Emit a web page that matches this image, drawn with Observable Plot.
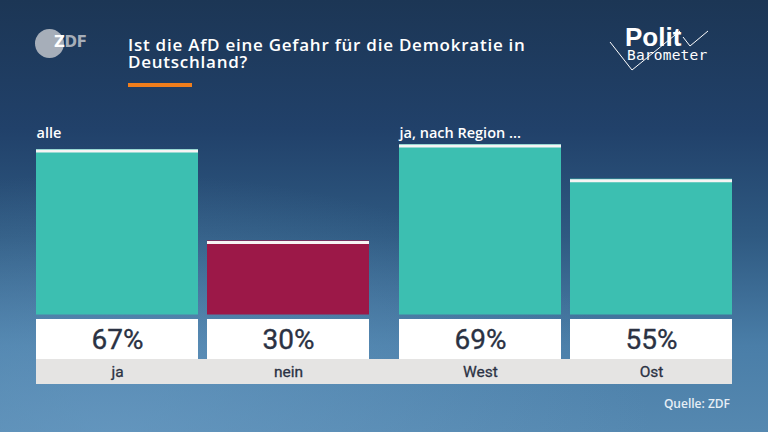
<!DOCTYPE html>
<html>
<head>
<meta charset="utf-8">
<script src="https://cdn.jsdelivr.net/npm/d3@7"></script>
<script src="https://cdn.jsdelivr.net/npm/@observablehq/plot@0.6"></script>
<style>
  html, body { margin: 0; padding: 0; }
  #page {
    position: relative; width: 768px; height: 432px; overflow: hidden;
    background:
      radial-gradient(ellipse 70% 60% at 15% 100%, rgba(110,160,200,0.55), rgba(110,160,200,0) 100%),
      linear-gradient(to bottom, #1c3655 0%, #21416a 30%, #2f5a82 55%, #4a7ea8 80%, #5588b0 100%);
    font-family: "Open Sans", "Noto Sans", sans-serif;
  }
  .abs { position: absolute; white-space: nowrap; }
  .title { left: 128px; color: #fff; font-size: 17px; font-weight: 600; line-height: 16px; letter-spacing: 0.75px; }
  #t1 { top: 37px; }
  #t2 { top: 54px; }
  #accent { left: 128px; top: 83px; width: 64px; height: 4px; background: #f07e1c; }
  #zdf-circle { left: 35px; top: 29px; width: 29px; height: 29px; border-radius: 50%; background: #a6aeb9; }
  #zdf-text { left: 54px; top: 34px; font-family: "DejaVu Sans", sans-serif; font-weight: 700; font-size: 15px; line-height: 16px; letter-spacing: -0.3px; }
  #polit { left: 625px; top: 27px; color: #fff; font-family: "Liberation Sans", sans-serif; font-weight: 700; font-size: 26px; line-height: 20px; }
  #baro { left: 627px; top: 48.5px; color: #fff; font-family: "DejaVu Sans Mono", monospace; font-size: 14.5px; line-height: 13px; letter-spacing: 0.2px; }
  #grey { left: 36px; top: 359px; width: 696px; height: 25px; background: #e5e4e3; }
  #source { right: 38px; top: 397px; color: #e6eef5; font-size: 12px; font-weight: 600; line-height: 14px; }
  #chart { left: 0; top: 0; }
</style>
</head>
<body>
<div id="page">
  <div id="grey" class="abs"></div>
  <div id="chart" class="abs"></div>
  <div id="zdf-circle" class="abs"></div>
  <div id="zdf-text" class="abs"><span style="color:#fff">Z</span><span style="color:#a6aeb9">DF</span></div>
  <div id="t1" class="abs title">Ist die AfD eine Gefahr für die Demokratie in</div>
  <div id="t2" class="abs title">Deutschland?</div>
  <div id="accent" class="abs"></div>
  <svg class="abs" style="left:0;top:0" width="768" height="100">
    <polyline points="610,42 632,70 680,31" fill="none" stroke="#fff" stroke-width="1"/>
    <polyline points="683,37 690,46 708,31" fill="none" stroke="#fff" stroke-width="1"/>
  </svg>
  <div id="polit" class="abs">Polit</div>
  <div id="baro" class="abs">Barometer</div>
  <div id="source" class="abs">Quelle: ZDF</div>
</div>
<script>
// Data
const categories = ["ja", "nein", "West", "Ost"];
const values = [67, 30, 69, 55];
const groups = ["alle", "alle", "region", "region"];
const groupKeys = ["alle", "region"];
const groupLabels = ["alle", "ja, nach Region ..."];
const barColors = ["#3cbfb1", "#9c1848", "#3cbfb1", "#3cbfb1"];

const rows = categories.map((c, i) => ({
  category: c,
  value: values[i],
  group: groups[i],
  slot: groups.slice(0, i).filter(g => g === groups[i]).length,
  color: barColors[i]
}));
const groupRows = groupKeys.map((g, i) => ({group: g, label: groupLabels[i]}));

const numFont = "Roboto, 'Liberation Sans', sans-serif";

const chart = Plot.plot({
  width: 768,
  height: 432,
  marginLeft: 36,
  marginRight: 36,
  marginTop: 67.5,
  marginBottom: 117.5,
  style: {background: "transparent", fontFamily: "'Open Sans', sans-serif", overflow: "visible"},
  fx: {domain: groupKeys, paddingInner: 30 / 363, paddingOuter: 0, axis: null, label: null},
  x: {type: "band", domain: [0, 1], paddingInner: 9 / 171, paddingOuter: 0, axis: null},
  y: {domain: [0, 100], axis: null},
  color: {type: "identity"},
  marks: [
    Plot.barY(rows, {fx: "group", x: "slot", y: "value", fill: "color"}),
    Plot.tickY(rows, {fx: "group", x: "slot", y: "value", stroke: "#f6f4f4", strokeWidth: 3, dy: 1.5}),
    Plot.barY(rows, {fx: "group", x: "slot", y1: 0, y2: 0, fill: "#ffffff", insetTop: 4.5, insetBottom: -44.5}),
    Plot.text(rows, {fx: "group", x: "slot", y: 0, text: d => d.value + "%", dy: 25, fontSize: 28, fontWeight: 400, fill: "#2b3243", stroke: "#2b3243", strokeWidth: 0.35, fontFamily: numFont}),
    Plot.text(rows, {fx: "group", x: "slot", y: 0, text: "category", dy: 57.5, fontSize: 15.5, fontWeight: 400, fill: "#2b3243", stroke: "#2b3243", strokeWidth: 0.3, fontFamily: numFont}),
    Plot.text(groupRows, {fx: "group", text: "label", frameAnchor: "top-left", dy: 60, fill: "#ffffff", fontSize: 14.5, fontWeight: 600, textAnchor: "start"})
  ]
});
document.getElementById("chart").appendChild(chart);
</script>
</body>
</html>
